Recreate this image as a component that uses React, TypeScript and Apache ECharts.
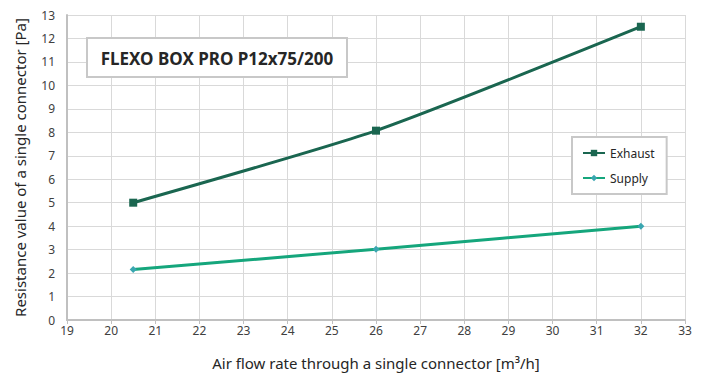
import React, { useEffect, useRef } from "react";
import * as echarts from "echarts";

const flowRates = [20.5, 26, 32];
const exhaustValues = [5.0, 8.07, 12.5];
const supplyValues = [2.15, 3.02, 4.0];
const chartTitle = "FLEXO BOX PRO P12x75/200";
const xAxisName = "Air flow rate through a single connector [m³/h]";
const yAxisName = "Resistance value of a single connector [Pa]";

const FONT = "'Noto Sans', 'DejaVu Sans', sans-serif";

export default function App() {
  const ref = useRef<HTMLDivElement>(null);
  useEffect(() => {
    if (!ref.current) return;
    const chart = echarts.init(ref.current, null, { renderer: "svg" });
    chart.setOption({
      animation: false,
      backgroundColor: "#ffffff",
      textStyle: { fontFamily: FONT },
      grid: { left: 67, right: 20, top: 15, bottom: 56, containLabel: false },
      xAxis: {
        type: "value",
        min: 19,
        max: 33,
        interval: 1,
        name: xAxisName,
        nameLocation: "middle",
        nameGap: 35,
        nameTextStyle: { fontSize: 15, color: "#262626", fontFamily: FONT },
        axisLine: { show: true, lineStyle: { color: "#c0c0c0", width: 2 } },
        axisTick: { show: true, length: 4, lineStyle: { color: "#c0c0c0" } },
        axisLabel: { fontSize: 12, color: "#404040", margin: 4 },
        splitLine: { show: true, lineStyle: { color: "#d9d9d9", width: 1 } },
      },
      yAxis: {
        type: "value",
        min: 0,
        max: 13,
        interval: 1,
        name: yAxisName,
        nameLocation: "middle",
        nameGap: 40,
        nameTextStyle: { fontSize: 15, color: "#262626", fontFamily: FONT },
        axisLine: { show: true, lineStyle: { color: "#c0c0c0", width: 2 } },
        axisTick: { show: false },
        axisLabel: { fontSize: 12, color: "#404040", margin: 12 },
        splitLine: { show: true, lineStyle: { color: "#d9d9d9", width: 1 } },
      },
      legend: {
        orient: "vertical",
        left: 572,
        top: 137,
        width: 88,
        itemWidth: 22,
        itemHeight: 8,
        itemGap: 13,
        padding: [10, 12, 10, 10],
        borderColor: "#c8c8c8",
        borderWidth: 2,
        backgroundColor: "#ffffff",
        textStyle: { fontSize: 12, color: "#262626", fontFamily: FONT },
        data: ["Exhaust", "Supply"],
      },
      graphic: [
        {
          type: "rect",
          shape: { x: 87, y: 38, width: 260, height: 39 },
          style: { fill: "#ffffff", stroke: "#c8c8c8", lineWidth: 2 },
          z: 100,
        },
        {
          type: "text",
          x: 217,
          y: 58,
          style: {
            text: chartTitle,
            fontFamily: FONT,
            fontWeight: "bold",
            fontSize: 17,
            fill: "#262626",
            align: "center",
            verticalAlign: "middle",
          },
          z: 101,
        },
      ],
      series: [
        {
          name: "Exhaust",
          type: "line",
          data: flowRates.map((x, i) => [x, exhaustValues[i]]),
          smooth: 0.2,
          symbol: "rect",
          symbolSize: 8,
          lineStyle: { color: "#1a6650", width: 3 },
          itemStyle: { color: "#1a6650" },
        },
        {
          name: "Supply",
          type: "line",
          data: flowRates.map((x, i) => [x, supplyValues[i]]),
          smooth: 0.2,
          symbol: "diamond",
          symbolSize: 7,
          lineStyle: { color: "#15a67c", width: 3 },
          itemStyle: { color: "#3aa6b0" },
        },
      ],
    });
    return () => chart.dispose();
  }, []);
  return (
    <div
      ref={ref}
      style={{ position: "fixed", left: 0, top: 0, width: 705, height: 376 }}
    />
  );
}
